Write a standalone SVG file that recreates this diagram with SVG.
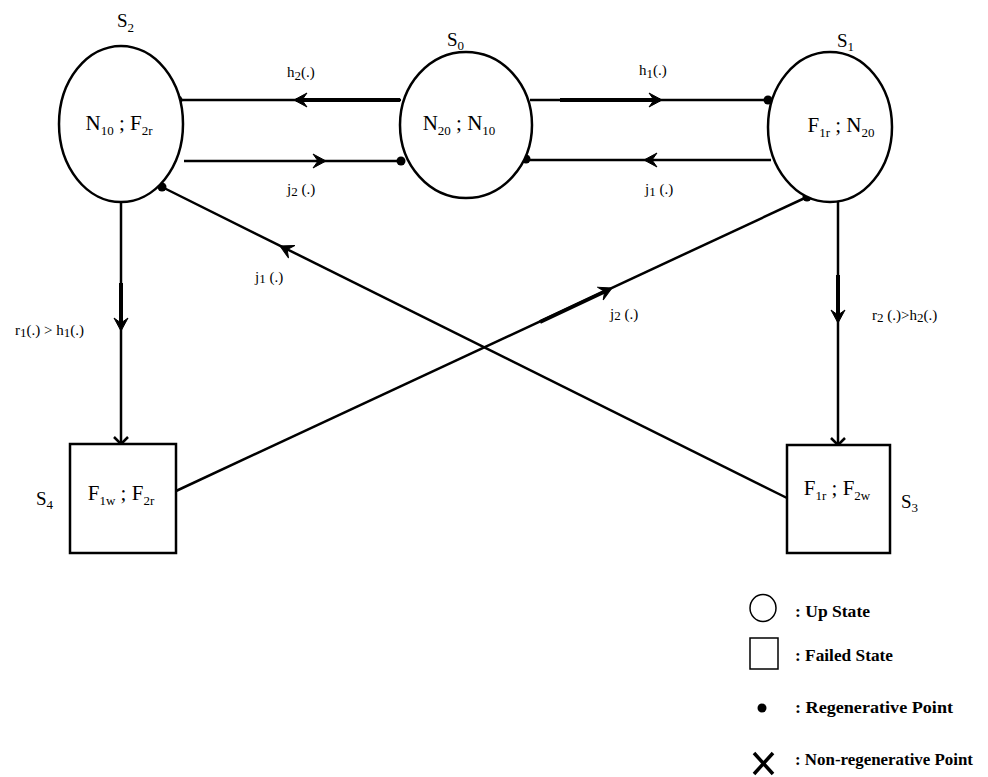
<svg xmlns="http://www.w3.org/2000/svg" width="988" height="777" viewBox="0 0 988 777">
<style>
.ln{stroke:#000;stroke-width:2.5;fill:none}
.thk{stroke:#000;stroke-width:4}
.nd{stroke:#000;stroke-width:2.5;fill:#fff}
.t{font-family:"Liberation Serif",serif;fill:#000}
.big{font-size:21px;text-anchor:middle}
.lab{font-size:15px}
.ttl{font-size:19px}
.sub{font-size:13px}
.lg{font-family:"Liberation Serif",serif;font-weight:bold;font-size:17px;fill:#000}
</style>
<defs>
<path id="ah" d="M0,0 L-13,-7 L-8,0 L-13,7 Z" fill="#000" stroke="#000" stroke-width="1"/>
<circle id="dot" r="4.5" fill="#000"/>
</defs>
<rect width="988" height="777" fill="#fff"/>
<g id="connectors">
<line class="ln" x1="178" y1="100" x2="401" y2="100"/>
<line class="ln" x1="184" y1="161" x2="401" y2="161"/>
<line class="ln" x1="530" y1="100" x2="768" y2="100"/>
<line class="ln" x1="525" y1="160" x2="771" y2="160"/>
<line class="ln" x1="162" y1="187" x2="787" y2="498"/>
<line class="ln" x1="176" y1="491" x2="807" y2="197"/>
<line class="ln" x1="121" y1="202" x2="121" y2="444"/>
<line class="ln" x1="838" y1="202" x2="838" y2="445"/>
<line class="thk" x1="296" y1="100" x2="400" y2="100"/>
<line class="thk" x1="560" y1="100" x2="660" y2="100"/>
<line class="thk" x1="121" y1="283" x2="121" y2="324"/>
<line class="thk" x1="838" y1="275" x2="838" y2="316"/>
<line class="thk" x1="540" y1="322" x2="608" y2="290"/>
<use href="#ah" transform="translate(294,100) rotate(180)"/>
<use href="#ah" transform="translate(326,161)"/>
<use href="#ah" transform="translate(662,100)"/>
<use href="#ah" transform="translate(644,160) rotate(180)"/>
<use href="#ah" transform="translate(280,246) rotate(206.45)"/>
<use href="#ah" transform="translate(612,288) rotate(-24.98)"/>
<use href="#ah" transform="translate(121,331) rotate(90)"/>
<use href="#ah" transform="translate(838,323) rotate(90)"/>
<use href="#dot" x="178" y="100"/>
<use href="#dot" x="401" y="161"/>
<use href="#dot" x="768" y="100"/>
<use href="#dot" x="526" y="159"/>
<use href="#dot" x="162" y="187"/>
<use href="#dot" x="807" y="197"/>
<path class="ln" d="M114,437 L128,451 M128,437 L114,451" stroke-width="1.8"/>
<path class="ln" d="M831,438 L845,452 M845,438 L831,452" stroke-width="1.8"/>
<text class="t lab" x="287" y="77">h<tspan class="sub" dy="3">2</tspan><tspan dy="-3">(.)</tspan></text>
<text class="t lab" x="287" y="194">j<tspan class="sub" dy="2">2</tspan><tspan dy="-2"> (.)</tspan></text>
<text class="t lab" x="639" y="75">h<tspan class="sub" dy="3">1</tspan><tspan dy="-3">(.)</tspan></text>
<text class="t lab" x="645" y="194">j<tspan class="sub" dy="2">1</tspan><tspan dy="-2"> (.)</tspan></text>
<text class="t lab" x="255" y="282">j<tspan class="sub" dy="1">1</tspan><tspan dy="-1"> (.)</tspan></text>
<text class="t lab" x="610" y="319">j<tspan class="sub" dy="1">2</tspan><tspan dy="-1"> (.)</tspan></text>
<text class="t lab" x="15" y="335">r<tspan class="sub" dy="2">1</tspan><tspan dy="-2">(.) &gt; h</tspan><tspan class="sub" dy="2">1</tspan><tspan dy="-2">(.)</tspan></text>
<text class="t lab" x="872" y="320">r<tspan class="sub" dy="2">2</tspan><tspan dy="-2"> (.)&gt;h</tspan><tspan class="sub" dy="2">2</tspan><tspan dy="-2">(.)</tspan></text>
</g>
<g id="S2">
<ellipse class="nd" cx="121" cy="124" rx="62" ry="78"/>
<text class="t big" x="119" y="130">N<tspan class="sub" dy="5">10</tspan><tspan dy="-5"> ; F</tspan><tspan class="sub" dy="5">2r</tspan></text>
<text class="t ttl" x="117" y="27">S<tspan class="sub" dy="5">2</tspan></text>
</g>
<g id="S0">
<ellipse class="nd" cx="466" cy="125" rx="66" ry="73"/>
<text class="t big" x="459" y="130">N<tspan class="sub" dy="5">20</tspan><tspan dy="-5"> ; N</tspan><tspan class="sub" dy="5">10</tspan></text>
<text class="t ttl" x="447" y="46">S<tspan class="sub" dy="4">0</tspan></text>
</g>
<g id="S1">
<ellipse class="nd" cx="830" cy="127" rx="62" ry="75"/>
<text class="t big" x="841" y="132">F<tspan class="sub" dy="5">1r</tspan><tspan dy="-5"> ; N</tspan><tspan class="sub" dy="5">20</tspan></text>
<text class="t ttl" x="837" y="47">S<tspan class="sub" dy="4">1</tspan></text>
</g>
<g id="S4">
<rect class="nd" x="70" y="444" width="106" height="109"/>
<text class="t big" x="121" y="500">F<tspan class="sub" dy="5">1w</tspan><tspan dy="-5"> ; F</tspan><tspan class="sub" dy="5">2r</tspan></text>
<text class="t ttl" x="36" y="505">S<tspan class="sub" dy="4">4</tspan></text>
</g>
<g id="S3">
<rect class="nd" x="787" y="445" width="103" height="108"/>
<text class="t big" x="837" y="495">F<tspan class="sub" dy="5">1r</tspan><tspan dy="-5"> ; F</tspan><tspan class="sub" dy="5">2w</tspan></text>
<text class="t ttl" x="901" y="508">S<tspan class="sub" dy="4">3</tspan></text>
</g>
<g id="legend">
<ellipse cx="763" cy="608" rx="13" ry="13.5" fill="none" stroke="#000" stroke-width="1.5"/>
<rect x="750" y="638" width="28" height="31" fill="none" stroke="#000" stroke-width="1.5"/>
<circle cx="762" cy="708" r="4.5" fill="#000"/>
<path d="M754,753 L773,774 M773,753 L754,774" stroke="#000" stroke-width="3.5" fill="none"/>
<text class="lg" x="795" y="617" textLength="75" lengthAdjust="spacingAndGlyphs">: Up State</text>
<text class="lg" x="795" y="661" textLength="98" lengthAdjust="spacingAndGlyphs">: Failed State</text>
<text class="lg" x="795" y="713" textLength="158" lengthAdjust="spacingAndGlyphs">: Regenerative Point</text>
<text class="lg" x="795" y="765" textLength="178" lengthAdjust="spacingAndGlyphs">: Non-regenerative Point</text>
</g>
</svg>
